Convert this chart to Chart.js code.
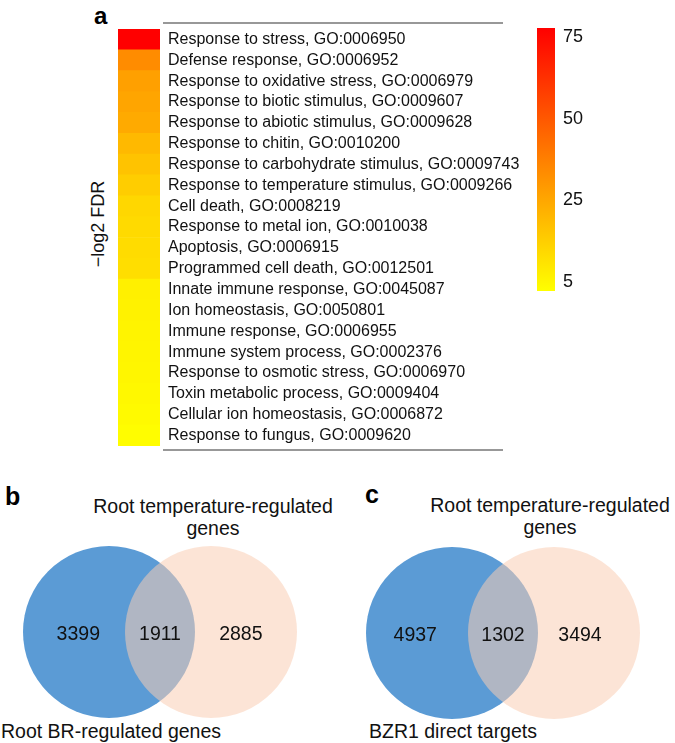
<!DOCTYPE html>
<html>
<head>
<meta charset="utf-8">
<script src="https://cdn.jsdelivr.net/npm/chart.js@4.4.1/dist/chart.umd.min.js"></script>
<style>
  html, body { margin: 0; padding: 0; background: #fff; }
  body { width: 675px; height: 743px; position: relative; overflow: hidden;
         font-family: "Liberation Sans", Arial, Helvetica, sans-serif; color: #111; }
  canvas { position: absolute; }
  .t { position: absolute; white-space: nowrap; color: #111; }
  .panel { font-weight: bold; font-size: 25px; line-height: 1; color: #000; }
  .venn { font-size: 19.5px; text-align: center; }
</style>
</head>
<body>
<div class="t panel" style="left:94px;top:4px;font-size:24px;">a</div>
<div class="t" id="yTitle" style="left:38px;top:214px;width:120px;height:20px;line-height:20px;font-size:18px;text-align:center;transform:rotate(-90deg);"></div>
<canvas id="heat" width="530" height="470" style="left:0;top:0;width:530px;height:470px;"></canvas>
<canvas id="cbar" width="155" height="310" style="left:520px;top:0;width:155px;height:310px;"></canvas>

<div class="t panel" style="left:5px;top:484px;">b</div>
<div class="t venn" id="vbTitle" style="left:63px;top:495px;width:300px;line-height:22px;"></div>
<div class="t venn" id="vbBottom" style="left:-39px;top:722px;width:300px;line-height:1;"></div>
<canvas id="vennB" width="344" height="176" style="left:-12px;top:544px;width:344px;height:176px;"></canvas>

<div class="t panel" style="left:365px;top:482px;">c</div>
<div class="t venn" id="vcTitle" style="left:400px;top:494px;width:300px;line-height:22px;"></div>
<div class="t venn" id="vcBottom" style="left:303px;top:722px;width:300px;line-height:1;"></div>
<canvas id="vennC" width="344" height="176" style="left:331px;top:545px;width:344px;height:176px;"></canvas>

<script>
// ---------------- data ----------------
const goTerms = [
  'Response to stress, GO:0006950',
  'Defense response, GO:0006952',
  'Response to oxidative stress, GO:0006979',
  'Response to biotic stimulus, GO:0009607',
  'Response to abiotic stimulus, GO:0009628',
  'Response to chitin, GO:0010200',
  'Response to carbohydrate stimulus, GO:0009743',
  'Response to temperature stimulus, GO:0009266',
  'Cell death, GO:0008219',
  'Response to metal ion, GO:0010038',
  'Apoptosis, GO:0006915',
  'Programmed cell death, GO:0012501',
  'Innate immune response, GO:0045087',
  'Ion homeostasis, GO:0050801',
  'Immune response, GO:0006955',
  'Immune system process, GO:0002376',
  'Response to osmotic stress, GO:0006970',
  'Toxin metabolic process, GO:0009404',
  'Cellular ion homeostasis, GO:0006872',
  'Response to fungus, GO:0009620'
];
const negLog2FDR = [78, 33.6, 27.2, 25.7, 24.3, 20.5, 18, 15.4, 12.9, 12.1,
                    11.6, 11.1, 6.6, 6.0, 5.7, 5.4, 5.0, 4.5, 4.0, 3.2];
const colorbarTicks = [5, 25, 50, 75];
const axisTitle = '−log2 FDR';

const vennSetsB = ['Root BR-regulated genes', 'Root temperature-regulated genes'];
const vennCountsB = [3399, 1911, 2885];
const vennSetsC = ['BZR1 direct targets', 'Root temperature-regulated genes'];
const vennCountsC = [4937, 1302, 3494];

// ---------------- layout / style ----------------
const FONT = '"Liberation Sans", Arial, Helvetica, sans-serif';
const CB_MIN = -0.11, CB_MAX = 3.11;           // colour-bar extent in tick-index units
const VENN_X = [-2, 2], VENN_Y = [-1.0233, 1.0233];
const VENN_CENTERS = [-0.593, 0.593];           // circle centres (radius = 1 x-unit)
const VENN_LABEL_X_B = [-0.95, 0, 0.94];
const VENN_LABEL_X_C = [-1.02, 0, 0.895];
const BLUE = '#5b9bd5';
const PEACH = 'rgba(250,205,180,0.54)';

function tickPos(v) {
  const t = colorbarTicks;
  let i = 0;
  if (v >= t[t.length - 1]) i = t.length - 2;
  else if (v > t[0]) { while (v > t[i + 1]) i++; }
  return i + (v - t[i]) / (t[i + 1] - t[i]);
}
function colorFor(v) {
  const f = Math.max(0, Math.min(1, (tickPos(v) - CB_MIN) / (CB_MAX - CB_MIN)));
  return 'rgb(255,' + Math.round(255 * (1 - f)) + ',0)';
}

Chart.defaults.font.family = FONT;
Chart.defaults.color = '#111';

// ---------------- heat strip ----------------
const rulePlugin = {
  id: 'rules',
  afterDraw(chart) {
    const { ctx, chartArea: a } = chart;
    ctx.save();
    ctx.strokeStyle = '#333';
    ctx.lineWidth = 1.2;
    ctx.beginPath();
    ctx.moveTo(a.right + 3, a.top - 6);  ctx.lineTo(a.right + 343, a.top - 6);
    ctx.moveTo(a.right + 3, a.bottom + 4); ctx.lineTo(a.right + 343, a.bottom + 4);
    ctx.stroke();
    ctx.restore();
  }
};

new Chart(document.getElementById('heat'), {
  type: 'bar',
  data: {
    labels: goTerms,
    datasets: [{
      data: goTerms.map(() => 1),
      backgroundColor: negLog2FDR.map(colorFor),
      borderWidth: 0,
      barPercentage: 1,
      categoryPercentage: 1
    }]
  },
  options: {
    indexAxis: 'y',
    responsive: false,
    animation: false,
    events: [],
    layout: { padding: { left: 118, top: 29, bottom: 24, right: 10 } },
    plugins: { legend: { display: false }, tooltip: { enabled: false } },
    scales: {
      x: { display: false, min: 0, max: 1 },
      y: {
        position: 'right',
        grid: { display: false, drawTicks: false },
        border: { display: false },
        ticks: { autoSkip: false, padding: 8, color: '#111', font: { size: 16 } },
        afterFit(s) { s.width = 360; }
      }
    }
  },
  plugins: [rulePlugin]
});
document.getElementById('yTitle').textContent = axisTitle;

// ---------------- colour bar ----------------
new Chart(document.getElementById('cbar'), {
  type: 'bar',
  data: {
    labels: [''],
    datasets: [{
      data: [[CB_MIN, CB_MAX]],
      backgroundColor(ctx) {
        const { chart } = ctx;
        const a = chart.chartArea;
        if (!a) return '#ff0';
        const g = chart.ctx.createLinearGradient(0, a.bottom, 0, a.top);
        g.addColorStop(0, 'rgb(255,255,0)');
        g.addColorStop(1, 'rgb(255,0,0)');
        return g;
      },
      borderWidth: 0,
      barPercentage: 1,
      categoryPercentage: 1
    }]
  },
  options: {
    responsive: false,
    animation: false,
    events: [],
    layout: { padding: { left: 17, top: 28, bottom: 19, right: 0 } },
    plugins: { legend: { display: false }, tooltip: { enabled: false } },
    scales: {
      x: { display: false },
      y: {
        position: 'right',
        min: CB_MIN, max: CB_MAX,
        grid: { display: false, drawTicks: false },
        border: { display: false },
        afterBuildTicks(s) { s.ticks = colorbarTicks.map((_, i) => ({ value: i })); },
        ticks: { padding: 8, color: '#111', font: { size: 18 },
                 callback: (v) => String(colorbarTicks[v]) },
        afterFit(s) { s.width = 120; }
      }
    }
  }
});

// ---------------- Venn diagrams ----------------
function vennChart(id, counts, labelX) {
  const canvas = document.getElementById(id);
  const rPx = canvas.width / (VENN_X[1] - VENN_X[0]);   // one x-unit in pixels
  new Chart(canvas, {
    type: 'bubble',
    data: {
      datasets: [{
        data: VENN_CENTERS.map(x => ({ x: x, y: 0, r: rPx })),
        backgroundColor: [BLUE, PEACH],
        hoverBackgroundColor: [BLUE, PEACH],
        borderWidth: 0,
        hoverBorderWidth: 0,
        hoverRadius: 0,
        clip: false
      }]
    },
    options: {
      responsive: false,
      animation: false,
      events: [],
      layout: { padding: 0, autoPadding: false },
      plugins: { legend: { display: false }, tooltip: { enabled: false } },
      scales: {
        x: { display: false, min: VENN_X[0], max: VENN_X[1] },
        y: { display: false, min: VENN_Y[0], max: VENN_Y[1] }
      }
    },
    plugins: [{
      id: 'counts',
      afterDatasetsDraw(chart) {
        const { ctx, scales: { x, y } } = chart;
        ctx.save();
        ctx.font = '19.5px ' + FONT;
        ctx.fillStyle = '#111';
        ctx.textAlign = 'center';
        ctx.textBaseline = 'alphabetic';
        counts.forEach((c, i) => ctx.fillText(String(c), x.getPixelForValue(labelX[i]), y.getPixelForValue(0) + 7.5));
        ctx.restore();
      }
    }]
  });
}
vennChart('vennB', vennCountsB, VENN_LABEL_X_B);
vennChart('vennC', vennCountsC, VENN_LABEL_X_C);

function setTitle(el, name) {
  const parts = name.split(' ');
  const last = parts.pop();
  el.innerHTML = parts.join(' ') + '<br>' + last;
}
setTitle(document.getElementById('vbTitle'), vennSetsB[1]);
setTitle(document.getElementById('vcTitle'), vennSetsC[1]);
document.getElementById('vbBottom').textContent = vennSetsB[0];
document.getElementById('vcBottom').textContent = vennSetsC[0];
</script>
</body>
</html>
